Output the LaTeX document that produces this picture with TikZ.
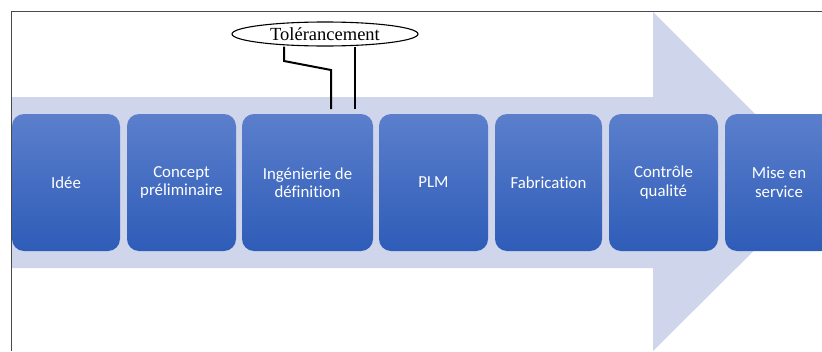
\documentclass[tikz,border=0pt]{standalone}
\usepackage{fontspec}
\setmainfont{Liberation Serif}
\newfontfamily\boxfont[Ligatures=CommonOff]{Carlito}
\usetikzlibrary{shapes.geometric}
\definecolor{fleche}{HTML}{CFD5EA}
\definecolor{bleuhaut}{HTML}{5B7FCC}
\definecolor{bleubas}{HTML}{2E5CB8}
\definecolor{cadre}{HTML}{4A4A4A}

\begin{document}
\begin{tikzpicture}[x=1pt, y=-1pt,
  etape/.style={rounded corners=12pt, top color=bleuhaut, bottom color=bleubas,
    text=white, align=center, inner sep=0pt, minimum height=137pt, minimum width=#1,
    font=\boxfont\fontsize{16.8}{18.5}\selectfont},
  bulle/.style={ellipse, draw, line width=1.1pt, inner sep=0pt, minimum width=186pt,
    minimum height=24pt, font=\fontsize{18.5}{20}\selectfont},
  lien/.style={line width=2pt}]
\clip (0,0) rectangle (822,351);
% grande fleche de fond
\fill[fleche] (12,97) -- (653,97) -- (653,12) -- (823,182) -- (653,351) -- (653,268) -- (12,268) -- cycle;
\draw[cadre, line width=1pt] (11,351) -- (11,11) -- (822,11);
% les etapes
\node[etape=108] (P_1) at (66,182.5) {Idée};
\node[etape=109] (P_2) at (181.5,182.5) {Concept\\préliminaire};
\node[etape=131] (P_3) at (307.5,182.5) {Ingénierie de\\définition};
\node[etape=109] (P_4) at (433.5,182.5) {PLM};
\node[etape=107] (P_5) at (548.5,182.5) {Fabrication};
\node[etape=109] (P_6) at (663.5,182.5) {Contrôle\\qualité};
\node[etape=108] (P_7) at (779,182.5) {Mise en\\service};
% bulle et ses deux traits
\node[bulle] (T) at (325,34) {Tolérancement};
\coordinate (K_1) at (284,61);
\coordinate (K_2) at (331,70);
\coordinate (K_3) at (331,109);
\coordinate (K_4) at (355,109);
\draw[lien] (T.south -| K_1) -- (K_1) -- (K_2) -- (K_3);
\draw[lien] (T.south -| K_4) -- (K_4);
\end{tikzpicture}
\end{document}
